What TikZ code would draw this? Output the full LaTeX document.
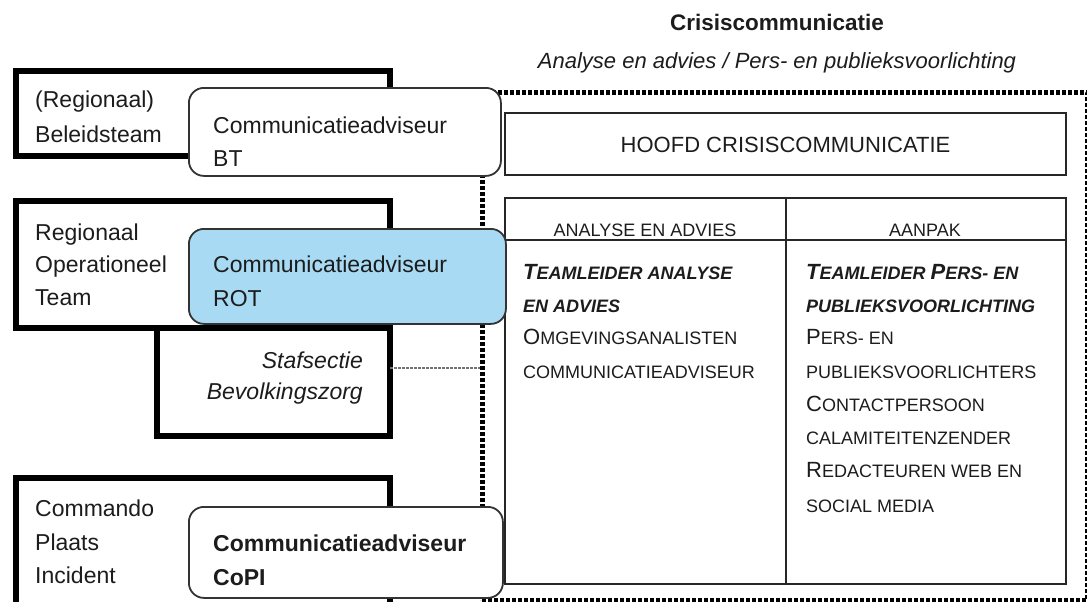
\documentclass[tikz,border=0pt]{standalone}
\usepackage{fontspec}
\setmainfont{Liberation Sans}
\definecolor{txt}{HTML}{1C1C1C}
\definecolor{rotblue}{HTML}{A8DBF3}
\newcommand\capB[1]{{\fontsize{22}{22}\selectfont #1}}
\newcommand\capS[1]{{\fontsize{18}{18}\selectfont #1}}
\tikzset{
  thickbox/.style={draw=black, line width=6pt, fill=white, inner sep=0pt, anchor=north west},
  rbox/.style={draw=black!80, line width=1.8pt, rounded corners=15pt, fill=white, inner sep=0pt, anchor=north west},
  thinbox/.style={draw=black!85, line width=2pt, inner sep=0pt, anchor=north west},
  crisisbox/.style={draw=black, line width=4.5pt, dash pattern=on 4pt off 2pt, inner sep=0pt, anchor=north west},
  graydot/.style={draw=black!55, line width=2pt, dash pattern=on 3pt off 1pt},
  lbl/.style={anchor=west, inner sep=0pt, text=txt, font=\fontsize{23}{23}\selectfont, text height=16.5pt, text depth=0pt},
  lblb/.style={lbl, font=\fontsize{23}{23}\selectfont\bfseries},
  lbli/.style={lbl, anchor=east, font=\fontsize{23}{23}\selectfont\itshape},
  ttl/.style={inner sep=0pt, text=txt, text height=16.5pt, text depth=0pt},
  row/.style={anchor=west, inner sep=0pt, text=txt, text height=13pt, text depth=0pt},
  hdr/.style={inner sep=0pt, text=txt, font=\fontsize{18}{18}\selectfont, text height=13pt, text depth=0pt},
}
\begin{document}
\begin{tikzpicture}[x=1pt,y=-1pt]
\useasboundingbox (0,0) rectangle (1087,602);
% outer dotted frame
\node[crisisbox, minimum width=605pt, minimum height=508pt] (crisis) at (480,90) {};
% thick boxes on the left
\node[thickbox, minimum width=374pt, minimum height=85pt] (rbt) at (13,68) {};
\node[thickbox, minimum width=374pt, minimum height=127pt] (rot) at (13,198) {};
\node[thickbox, minimum width=233pt, minimum height=108pt] (staf) at (154,325) {};
\node[thickbox, minimum width=374pt, minimum height=131pt] (copi) at (13,475) {};
% inner boxes
\node[thinbox, minimum width=561pt, minimum height=62pt] (hoofd) at (504,112) {};
\node[thinbox, minimum width=561pt, minimum height=386pt] (table) at (504,197) {};
\draw[black!85, line width=2pt] ([yshift=-43pt]table.north west) -- ([yshift=-43pt]table.north east);
\draw[black!85, line width=2pt] ([xshift=282pt]table.north west) -- ([xshift=282pt]table.south west);
% dotted link
\coordinate (sdot) at (390,368);
\draw[graydot] (sdot) -- (sdot -| crisis.west);
% rounded adviser boxes
\node[rbox, minimum width=312pt, minimum height=88pt] (btadv) at (188,87) {};
\node[rbox, fill=rotblue, minimum width=317pt, minimum height=95pt] (rotadv) at (188,228) {};
\node[rbox, minimum width=314pt, minimum height=91pt] (copiadv) at (188,506) {};
% titles
\node[ttl, font=\fontsize{22.5}{22.5}\selectfont\bfseries] (title) at (777,22) {Crisiscommunicatie};
\node[ttl, font=\fontsize{22}{22}\selectfont\itshape] (subtitle) at (777,60) {Analyse en advies / Pers- en publieksvoorlichting};
% left labels
\node[lbl] (t1a) at (35,99) {(Regionaal)};
\node[lbl] (t1b) at (35,134) {Beleidsteam};
\node[lbl] (bt1) at (213,125) {Communicatieadviseur};
\node[lbl] (bt2) at (213,158) {BT};
\node[lbl] (t2a) at (35,232) {Regionaal};
\node[lbl] (t2b) at (35,264) {Operationeel};
\node[lbl] (t2c) at (35,297) {Team};
\node[lbl] (rot1) at (213,264) {Communicatieadviseur};
\node[lbl] (rot2) at (213,298) {ROT};
\node[lbli] (s1) at (363,360) {Stafsectie};
\node[lbli] (s2) at (363,391) {Bevolkingszorg};
\node[lbl] (t3a) at (35,508) {Commando};
\node[lbl] (t3b) at (35,542) {Plaats};
\node[lbl] (t3c) at (35,575) {Incident};
\node[lblb] (c1) at (213,543) {Communicatieadviseur};
\node[lblb] (c2) at (213,577) {CoPI};
% right side texts
\node[ttl, font=\fontsize{22}{22}\selectfont] (hoofdt) at (hoofd.center) {HOOFD CRISISCOMMUNICATIE};
\node[hdr] (h1) at (645,230) {ANALYSE EN ADVIES};
\node[hdr] (h2) at (925,230) {AANPAK};
\node[row] (a1) at (523,273) {\bfseries\itshape\capB{T}\capS{EAMLEIDER ANALYSE}};
\node[row] (a2) at (523,306) {\bfseries\itshape\capS{EN ADVIES}};
\node[row] (a3) at (523,338) {\capB{O}\capS{MGEVINGSANALISTEN}};
\node[row] (a4) at (523,372) {\capS{COMMUNICATIEADVISEUR}};
\node[row] (b1) at (806,273) {\bfseries\itshape\capB{T}\capS{EAMLEIDER }\capB{P}\capS{ERS- EN}};
\node[row] (b2) at (806,306) {\bfseries\itshape\capS{PUBLIEKSVOORLICHTING}};
\node[row] (b3) at (806,338) {\capB{P}\capS{ERS- EN}};
\node[row] (b4) at (806,372) {\capS{PUBLIEKSVOORLICHTERS}};
\node[row] (b5) at (806,405) {\capB{C}\capS{ONTACTPERSOON}};
\node[row] (b6) at (806,438) {\capS{CALAMITEITENZENDER}};
\node[row] (b7) at (806,471) {\capB{R}\capS{EDACTEUREN WEB EN}};
\node[row] (b8) at (806,506) {\capS{SOCIAL MEDIA}};
\end{tikzpicture}
\end{document}
